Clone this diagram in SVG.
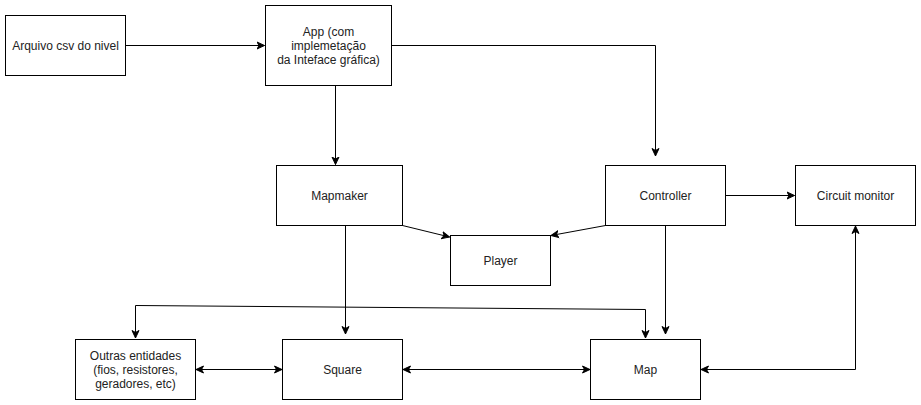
<svg xmlns="http://www.w3.org/2000/svg" width="921" height="405" viewBox="0 0 921 405">
<style>
.box{fill:#fff;stroke:#000;stroke-width:1}
.lbl{font-family:"Liberation Sans",Arial,sans-serif;font-size:12px;fill:#222;text-anchor:middle}
.edge{fill:none;stroke:#000;stroke-width:1}
.e1{marker-end:url(#arr)}
.e2{marker-end:url(#arr);marker-start:url(#arr)}
</style>
<defs>
<marker id="arr" markerUnits="userSpaceOnUse" markerWidth="10" markerHeight="10" refX="8" refY="4" orient="auto-start-reverse" viewBox="0 0 10 8">
<path d="M0.5,0.5 L8,4 L0.5,7.5 L2.5,4 Z" fill="#000" stroke="#000" stroke-width="1"/>
</marker>
</defs>
<rect width="921" height="405" fill="#fff"/>
<g id="connectors">
<path class="edge e1" d="M125.5,45.5 L264.5,45.5"/>
<path class="edge e1" d="M391.5,45.5 L655.5,45.5 L655.5,156"/>
<path class="edge e1" d="M335.5,85.5 L335.5,164.5"/>
<path class="edge e1" d="M402.5,225.5 L449.5,237"/>
<path class="edge e1" d="M605.5,225.5 L551,235.5"/>
<path class="edge e1" d="M725.5,195.5 L794.5,195.5"/>
<path class="edge e1" d="M665.5,225.5 L665.5,334"/>
<path class="edge e1" d="M345.5,225.5 L345.5,334"/>
<path class="edge e2" d="M135.5,338 L135.5,305.5 L645.5,309.5 L645.5,338"/>
<path class="edge e2" d="M196,369.5 L282,369.5"/>
<path class="edge e2" d="M403,369.5 L590,369.5"/>
<path class="edge e2" d="M701,369.5 L855.5,369.5 L855.5,226"/>
</g>
<g id="arquivo">
<rect class="box" x="5.5" y="15.5" width="120" height="60"/>
<text class="lbl" x="65.5" y="49.5">Arquivo csv do nivel</text>
</g>
<g id="app">
<rect class="box" x="265.5" y="5.5" width="126" height="80"/>
<text class="lbl" x="328.5" y="35.5">App (com</text>
<text class="lbl" x="328.5" y="49.5">implemetação</text>
<text class="lbl" x="328.5" y="63.5">da Inteface gráfica)</text>
</g>
<g id="mapmaker">
<rect class="box" x="276.5" y="165.5" width="126" height="60"/>
<text class="lbl" x="339.5" y="199.5">Mapmaker</text>
</g>
<g id="controller">
<rect class="box" x="605.5" y="165.5" width="120" height="60"/>
<text class="lbl" x="665.5" y="199.5">Controller</text>
</g>
<g id="circuit">
<rect class="box" x="795.5" y="165.5" width="120" height="60"/>
<text class="lbl" x="855.5" y="199.5">Circuit monitor</text>
</g>
<g id="player">
<rect class="box" x="450.5" y="235.5" width="100" height="50"/>
<text class="lbl" x="500.5" y="264.5">Player</text>
</g>
<g id="outras">
<rect class="box" x="75.5" y="339.5" width="120" height="60"/>
<text class="lbl" x="135.5" y="359.5">Outras entidades</text>
<text class="lbl" x="135.5" y="373.5">(fios, resistores,</text>
<text class="lbl" x="135.5" y="387.5">geradores, etc)</text>
</g>
<g id="square">
<rect class="box" x="282.5" y="339.5" width="120" height="60"/>
<text class="lbl" x="342.5" y="373.5">Square</text>
</g>
<g id="map">
<rect class="box" x="590.5" y="339.5" width="110" height="60"/>
<text class="lbl" x="645.5" y="373.5">Map</text>
</g>
</svg>
